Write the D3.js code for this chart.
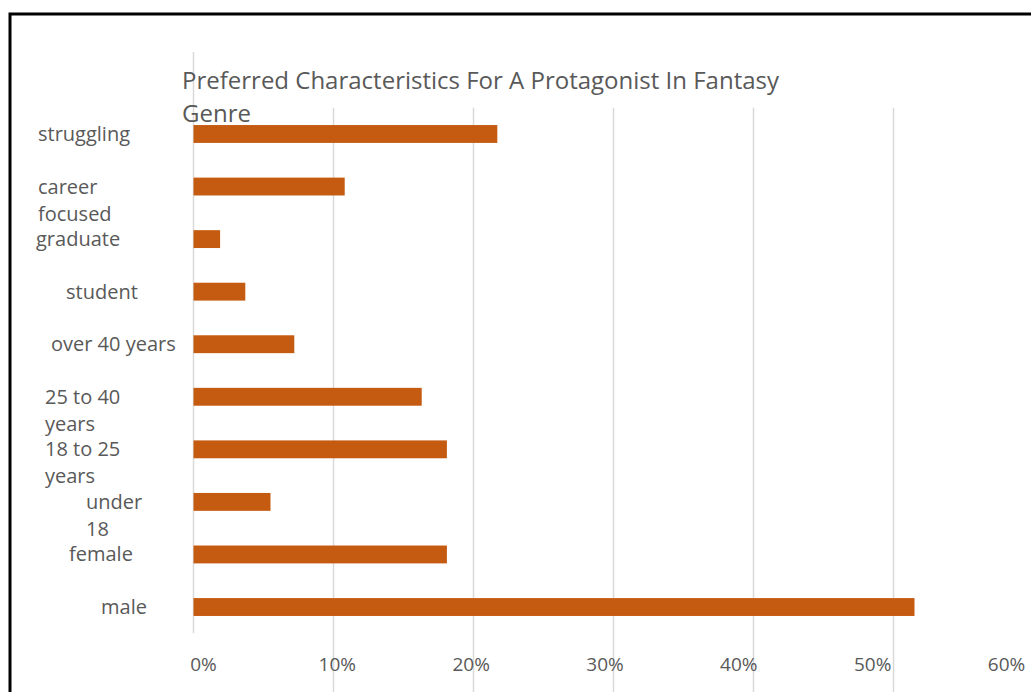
<!DOCTYPE html>
<html lang="en">
<head>
    <meta charset="UTF-8">
    <title>Preferred Characteristics For A Protagonist In Fantasy Genre</title>
    <script src="https://d3js.org/d3.v7.min.js"></script>
    <style>
        body { margin: 0; background: #fff; }
        svg { display: block; }
        .label { font-family: "Open Sans", sans-serif; fill: #595959; }
        .grid line { stroke: #d9d9d9; stroke-width: 1.5; }
        .bar { fill: #c55a11; }
    </style>
</head>
<body>
    <svg width="1031" height="692"></svg>

    <script>
        // data, top to bottom as in the chart
        const categories = ["struggling", "career focused", "graduate", "student", "over 40 years",
                            "25 to 40 years", "18 to 25 years", "under 18", "female", "male"];
        const shares = [0.217, 0.108, 0.019, 0.037, 0.072, 0.163, 0.181, 0.055, 0.181, 0.515];
        const tickValues = [0, 0.1, 0.2, 0.3, 0.4, 0.5, 0.6];
        const titleLines = ["Preferred Characteristics For A Protagonist In Fantasy", "Genre"];

        // how the category names wrap, and where each block starts
        const labelLines = {
            "career focused": ["career", "focused"],
            "25 to 40 years": ["25 to 40", "years"],
            "18 to 25 years": ["18 to 25", "years"],
            "under 18": ["under", "18"]
        };
        const labelLeft = [38, 38, 36, 66, 51, 45, 45, 86, 69, 101];

        const svg = d3.select("svg");

        // frame (right and bottom sides fall outside the picture)
        svg.append("rect")
            .attr("x", 10).attr("y", 14)
            .attr("width", 1100).attr("height", 800)
            .attr("fill", "none")
            .attr("stroke", "#000")
            .attr("stroke-width", 3);

        const x = d3.scaleLinear().domain([0, 0.6]).range([193.5, 1033.5]);
        // the tick labels sit on a slightly tighter spacing than the gridlines
        const xLabel = d3.scaleLinear().domain([0, 0.6]).range([203, 1006]);
        const y = d3.scaleBand()
            .domain(categories)
            .range([107.7, 633.3])
            .paddingInner(0.66)
            .paddingOuter(0.33);

        // gridlines
        const grid = svg.append("g").attr("class", "grid");
        grid.selectAll("line")
            .data(tickValues)
            .enter().append("line")
            .attr("x1", d => x(d)).attr("x2", d => x(d))
            .attr("y1", d => d === 0 ? 52 : y.range()[0])
            .attr("y2", d => d === 0 ? y.range()[1] : 700);

        // bars
        svg.append("g")
            .selectAll(".bar")
            .data(categories)
            .enter().append("rect")
            .attr("class", "bar")
            .attr("x", x(0))
            .attr("y", d => y(d))
            .attr("width", (d, i) => x(shares[i]) - x(0))
            .attr("height", y.bandwidth());

        // x tick labels
        const xAxis = svg.append("g")
            .attr("transform", "translate(0,657)")
            .call(d3.axisBottom(xLabel).tickValues(tickValues).tickSize(0).tickFormat(d3.format(".0%")));
        xAxis.select(".domain").remove();
        xAxis.selectAll(".tick text")
            .attr("class", "label")
            .attr("dy", "0.71em")
            .attr("y", 0)
            .style("font-size", "19px");

        // category labels
        const cat = svg.append("g")
            .selectAll("text")
            .data(categories)
            .enter().append("text")
            .attr("class", "label")
            .style("font-size", "20px")
            .attr("x", (d, i) => labelLeft[i])
            .attr("y", d => y(d) + y.bandwidth() / 2);
        cat.selectAll("tspan")
            .data(d => labelLines[d] || [d])
            .enter().append("tspan")
            .attr("x", function() { return this.parentNode.getAttribute("x"); })
            .attr("dy", (d, i) => i === 0 ? "0.35em" : "27px")
            .text(d => d);

        // title
        svg.append("text")
            .attr("class", "label")
            .attr("x", 182)
            .attr("y", 89)
            .style("font-size", "24px")
            .selectAll("tspan")
            .data(titleLines)
            .enter().append("tspan")
            .attr("x", 182)
            .attr("dy", (d, i) => i === 0 ? 0 : "33px")
            .text(d => d);
    </script>
</body>
</html>
